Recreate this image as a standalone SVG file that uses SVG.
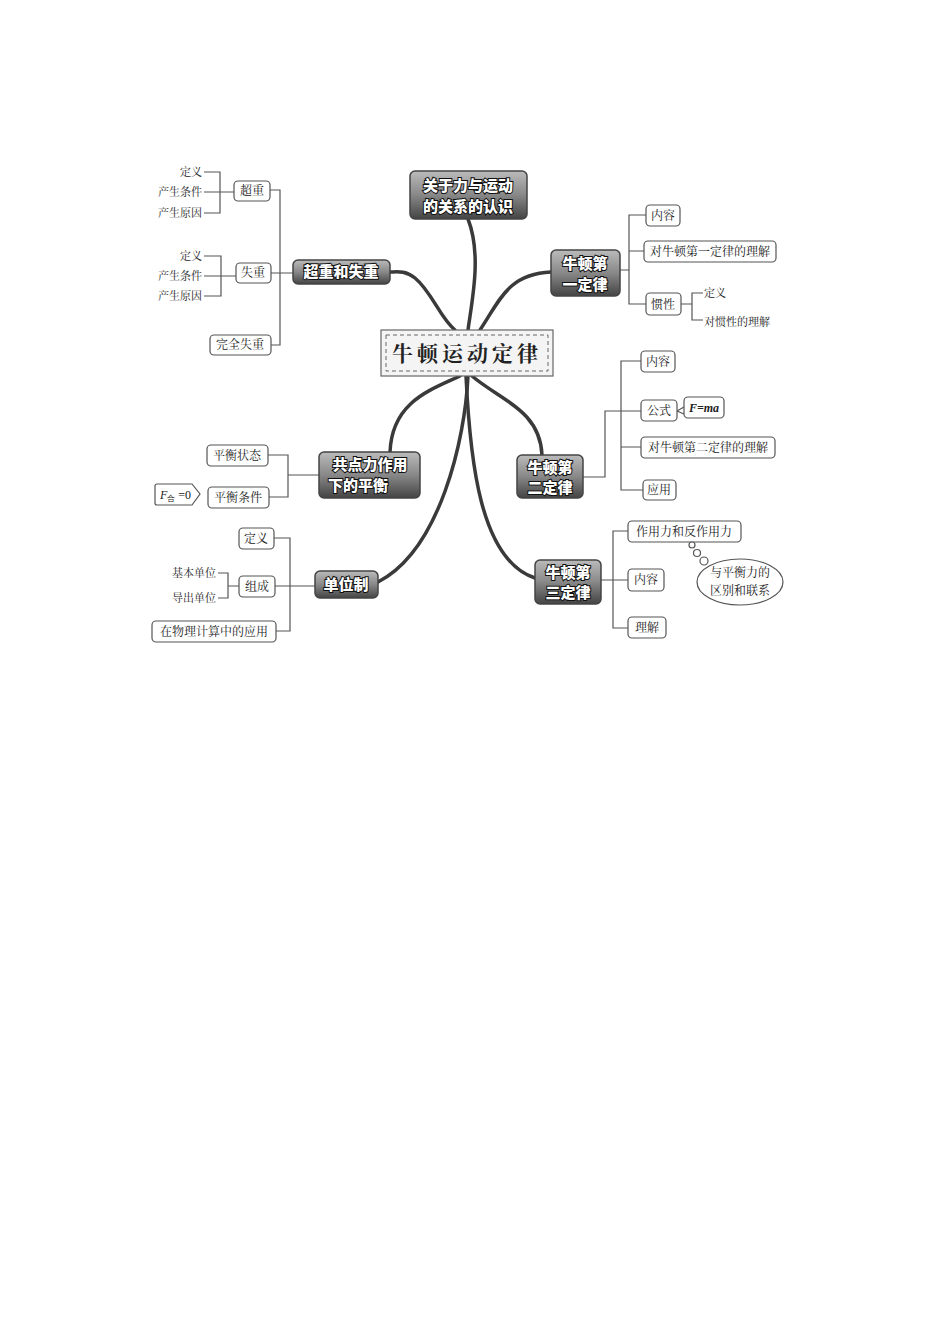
<svg xmlns="http://www.w3.org/2000/svg" width="950" height="1344" viewBox="0 0 950 1344">
<style>
.m{fill:url(#g);stroke:#444;stroke-width:1.5}
.mt{font-family:"Noto Sans CJK SC",sans-serif;font-size:15px;font-weight:900;fill:#fff;stroke:#111;stroke-width:2;paint-order:stroke;text-anchor:middle}
.b{fill:#fff;stroke:#555;stroke-width:1.2}
.t{font-family:"Noto Serif CJK SC","Noto Sans CJK SC",serif;font-size:12px;fill:#222;text-anchor:middle}
.tl{font-family:"Noto Serif CJK SC","Noto Sans CJK SC",serif;font-size:11px;fill:#222}
.l{fill:none;stroke:#555;stroke-width:1.2}
.c{fill:none;stroke:#3a3a3a;stroke-width:3.5;stroke-linecap:round}
</style>
<defs>
<linearGradient id="g" x1="0" y1="0" x2="0" y2="1">
<stop offset="0" stop-color="#bbb"/><stop offset="0.5" stop-color="#888"/><stop offset="1" stop-color="#444"/>
</linearGradient>
</defs>
<rect width="950" height="1344" fill="#fff"/>
<g id="connectors">
<path class="c" d="M455,330 C440,318 432,292 415,278 C405,270 396,272 390,272"/>
<path class="c" d="M468,330 C472,300 482,255 468,219"/>
<path class="c" d="M480,330 C500,300 508,274 551,272"/>
<path class="c" d="M472,376 C500,400 540,410 542,455"/>
<path class="c" d="M460,376 C430,390 392,402 390,452"/>
<path class="c" d="M468,376 C465,440 440,550 378,582"/>
<path class="c" d="M466,376 C470,460 480,560 535,578"/>
<path class="l" d="M204,172 H220 V213 H204 M204,192 H234 M220,192 H234"/>
<path class="l" d="M204,256 H221 V296 H204 M204,276 H236"/>
<path class="l" d="M270,190 H280 V345 H271 M271,273 H293"/>
<path class="l" d="M620,270 H629 M646,215 H629 V304 H646 M629,251 H644"/>
<path class="l" d="M681,304 H692 M703,293 H692 V320 H703"/>
<path class="l" d="M583,477 H605 V411 H641 M641,361 H621 V490 H643 M621,447 H641 M677,411 L684,407 M677,411 L684,414"/>
<path class="l" d="M601,580 H613 M628,531 H613 V628 H628 M613,580 H628"/>
<path class="l" d="M268,455 H288 V497 H269 M288,475 H319"/>
<path class="l" d="M274,538 H290 V631 H276 M275,586 H315"/>
<path class="l" d="M218,573 H228 V598 H218 M228,586 H239"/>
</g>
<g id="center">
<rect x="381" y="330" width="172" height="46" fill="#f4f4f4" stroke="#666" stroke-width="1.2"/>
<rect x="386" y="335" width="162" height="36" fill="none" stroke="#666" stroke-dasharray="4,3"/>
<text x="467" y="361" font-family="Noto Serif CJK SC,serif" font-size="21" font-weight="bold" fill="#222" text-anchor="middle" letter-spacing="4">牛顿运动定律</text>
</g>
<g id="n-guanyu"><rect class="m" x="410" y="171" width="117" height="48" rx="5"/><text class="mt" x="468" y="191">关于力与运动</text><text class="mt" x="468" y="212">的关系的认识</text></g>
<g id="n-chaozhongshizhong"><rect class="m" x="293" y="260" width="97" height="24" rx="5"/><text class="mt" x="341" y="277">超重和失重</text></g>
<g id="n-diyi"><rect class="m" x="551" y="250" width="69" height="46" rx="5"/><text class="mt" x="585" y="269">牛顿第</text><text class="mt" x="585" y="290">一定律</text></g>
<g id="n-dier"><rect class="m" x="517" y="455" width="66" height="43" rx="5"/><text class="mt" x="550" y="473">牛顿第</text><text class="mt" x="550" y="493">二定律</text></g>
<g id="n-gongdian"><rect class="m" x="319" y="452" width="101" height="46" rx="5"/><text class="mt" x="370" y="470">共点力作用</text><text class="mt" x="358" y="491">下的平衡</text></g>
<g id="n-danwei"><rect class="m" x="315" y="571" width="63" height="27" rx="5"/><text class="mt" x="346" y="590">单位制</text></g>
<g id="n-disan"><rect class="m" x="535" y="560" width="66" height="44" rx="5"/><text class="mt" x="568" y="578">牛顿第</text><text class="mt" x="568" y="598">三定律</text></g>
<g id="leaves">
<text class="tl" x="202" y="176" text-anchor="end">定义</text>
<text class="tl" x="202" y="196" text-anchor="end">产生条件</text>
<text class="tl" x="202" y="217" text-anchor="end">产生原因</text>
<text class="tl" x="202" y="260" text-anchor="end">定义</text>
<text class="tl" x="202" y="280" text-anchor="end">产生条件</text>
<text class="tl" x="202" y="300" text-anchor="end">产生原因</text>
<rect class="b" x="234" y="181" width="36" height="20" rx="4"/><text class="t" x="252" y="195">超重</text>
<rect class="b" x="236" y="263" width="35" height="20" rx="4"/><text class="t" x="253" y="277">失重</text>
<rect class="b" x="210" y="335" width="61" height="20" rx="4"/><text class="t" x="240" y="349">完全失重</text>
<rect class="b" x="646" y="205" width="34" height="21" rx="4"/><text class="t" x="663" y="220">内容</text>
<rect class="b" x="644" y="241" width="132" height="21" rx="4"/><text class="t" x="710" y="256">对牛顿第一定律的理解</text>
<rect class="b" x="646" y="293" width="35" height="22" rx="4"/><text class="t" x="663" y="309">惯性</text>
<text class="tl" x="704" y="297">定义</text>
<text class="tl" x="704" y="326">对惯性的理解</text>
<rect class="b" x="641" y="351" width="34" height="21" rx="4"/><text class="t" x="658" y="366">内容</text>
<rect class="b" x="641" y="400" width="36" height="21" rx="4"/><text class="t" x="659" y="415">公式</text>
<rect class="b" x="684" y="397" width="40" height="21" rx="4"/><text x="704" y="412" font-family="Liberation Serif,serif" font-size="12" font-style="italic" font-weight="bold" text-anchor="middle" fill="#222">F=ma</text>
<rect class="b" x="641" y="437" width="134" height="21" rx="4"/><text class="t" x="708" y="452">对牛顿第二定律的理解</text>
<rect class="b" x="643" y="480" width="33" height="20" rx="4"/><text class="t" x="659" y="494">应用</text>
<rect class="b" x="628" y="521" width="113" height="21" rx="4"/><text class="t" x="684" y="536">作用力和反作用力</text>
<rect class="b" x="628" y="569" width="36" height="22" rx="4"/><text class="t" x="646" y="584">内容</text>
<rect class="b" x="628" y="617" width="38" height="21" rx="4"/><text class="t" x="647" y="632">理解</text>
<circle class="b" cx="692" cy="545" r="3"/><circle class="b" cx="697" cy="553" r="3.5"/><circle class="b" cx="704" cy="561" r="4"/>
<ellipse class="b" cx="740" cy="582" rx="43" ry="23"/><text class="t" x="740" y="577">与平衡力的</text><text class="t" x="740" y="595">区别和联系</text>
<rect class="b" x="207" y="445" width="61" height="21" rx="4"/><text class="t" x="237" y="460">平衡状态</text>
<rect class="b" x="208" y="487" width="61" height="21" rx="4"/><text class="t" x="238" y="502">平衡条件</text>
<path class="b" d="M157,484 H192 L200,494 L192,505 H157 Q155,505 155,503 V486 Q155,484 157,484 Z"/>
<text x="160" y="499" font-family="Liberation Serif,serif" font-size="12" fill="#222"><tspan font-style="italic">F</tspan><tspan font-size="8" dy="2">合</tspan><tspan dy="-2"> =0</tspan></text>
<rect class="b" x="239" y="528" width="35" height="21" rx="4"/><text class="t" x="256" y="543">定义</text>
<rect class="b" x="239" y="576" width="36" height="21" rx="4"/><text class="t" x="257" y="591">组成</text>
<rect class="b" x="152" y="621" width="124" height="21" rx="4"/><text class="t" x="214" y="636">在物理计算中的应用</text>
<text class="tl" x="216" y="577" text-anchor="end">基本单位</text>
<text class="tl" x="216" y="602" text-anchor="end">导出单位</text>
</g>
</svg>
